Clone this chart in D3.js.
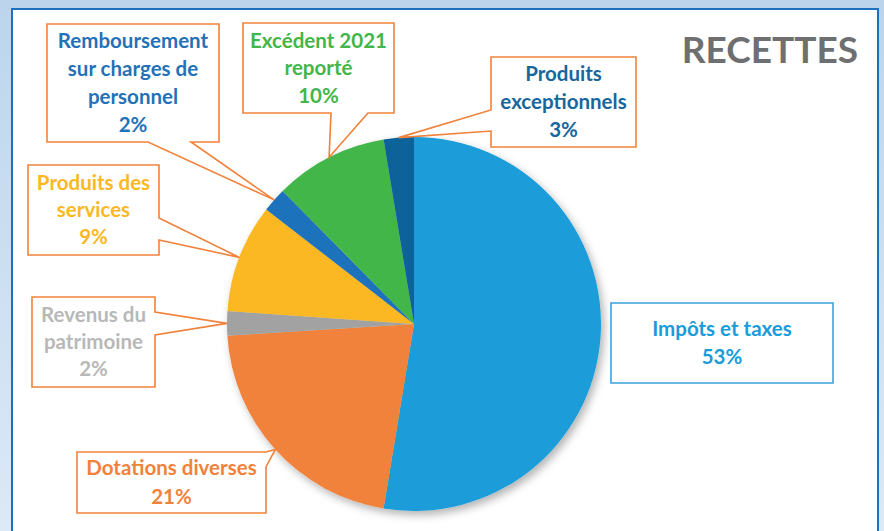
<!DOCTYPE html>
<html lang="fr">
<head>
<meta charset="utf-8">
<title>Recettes</title>
<script src="https://d3js.org/d3.v7.min.js"></script>
<style>
  body { margin: 0; overflow: hidden; }
  svg text { font-family: Lato, "Open Sans", sans-serif; font-weight: bold; }
</style>
</head>
<body>
<script>
// data (share of receipts, clockwise from 12 o'clock)
var categories = ["Impôts et taxes", "Dotations diverses", "Revenus du patrimoine",
                  "Produits des services", "Remboursement sur charges de personnel",
                  "Excédent 2021 reporté", "Produits exceptionnels"]
var values = [52.6, 21.4, 2.1, 9.4, 2.1, 9.8, 2.6]
var colors = ["#1a9cd8", "#f1823b", "#a2a2a2", "#fbb824", "#1f72bb", "#43b649", "#0b6499"]
var textColors = ["#1a9cd8", "#f1823b", "#b8b8b8", "#fbb824", "#2471b8", "#43b649", "#17679d"]
// label lines as they are wrapped in the boxes
var labelLines = [["Impôts et taxes"], ["Dotations diverses"], ["Revenus du", "patrimoine"],
                  ["Produits des", "services"], ["Remboursement", "sur charges de", "personnel"],
                  ["Excédent 2021", "reporté"], ["Produits", "exceptionnels"]]

var w = 884, h = 531
var cx = 414, cy = 324, r = 187

// callout boxes: box rect, which side the pointer leaves from and where
var boxes = [
  {x: 611, y: 303, w: 222, h: 80, side: null, lh: 28},
  {x: 77, y: 452, w: 189, h: 61, side: "right", base: [452, 467], lh: 29},
  {x: 32, y: 297, w: 123, h: 90, side: "right", base: [312, 335], lh: 27},
  {x: 28, y: 165, w: 131, h: 90, side: "right", base: [218, 240], lh: 27},
  {x: 47, y: 24, w: 172, h: 118, side: "bottom", base: [148, 191], lh: 28},
  {x: 243, y: 23, w: 151, h: 90, side: "bottom", base: [331, 368], lh: 27.5},
  {x: 491, y: 57, w: 145, h: 90, side: "left", base: [110, 131], lh: 28}
]

var svg = d3.select("body").append("svg")
  .attr("width", w)
  .attr("height", h)

var defs = svg.append("defs")
var grad = defs.append("linearGradient").attr("id", "bg")
  .attr("x1", 0).attr("y1", 0).attr("x2", 0).attr("y2", 1)
grad.append("stop").attr("offset", "0%").attr("stop-color", "#bcd5ec")
grad.append("stop").attr("offset", "100%").attr("stop-color", "#dce9f6")

var shadow = defs.append("filter").attr("id", "shadow")
  .attr("x", "-20%").attr("y", "-20%").attr("width", "140%").attr("height", "140%")
shadow.append("feDropShadow")
  .attr("dx", 3).attr("dy", 4).attr("stdDeviation", 4)
  .attr("flood-color", "#000").attr("flood-opacity", 0.3)

// background + panel
svg.append("rect").attr("width", w).attr("height", h).attr("fill", "url(#bg)")
svg.append("rect")
  .attr("x", 12).attr("y", 9).attr("width", 866).attr("height", 540)
  .attr("fill", "#fff").attr("stroke", "#1f6fbf").attr("stroke-width", 2)

svg.append("text")
  .attr("x", 858).attr("y", 63)
  .attr("text-anchor", "end")
  .attr("font-size", 37)
  .attr("fill", "#6d6f71")
  .text("RECETTES")

// pie
var pie = d3.pie().sort(null).value(function(d){ return d })
var arcs = pie(values)
var arc = d3.arc().innerRadius(0).outerRadius(r)
var tipArc = d3.arc().innerRadius(r * 2).outerRadius(0) // centroid sits at radius r

var g = svg.append("g").attr("transform", "translate(" + cx + "," + cy + ")")
g.append("g").attr("filter", "url(#shadow)")
  .selectAll("path")
  .data(arcs)
  .enter()
  .append("path")
  .attr("d", arc)
  .attr("fill", function(d, i){ return colors[i] })

// callouts
function calloutPath(b, tip){
  var x0 = b.x, y0 = b.y, x1 = b.x + b.w, y1 = b.y + b.h
  var p = []
  if(b.side === "bottom"){
    p = [[x0, y0], [x1, y0], [x1, y1], [b.base[1], y1], tip, [b.base[0], y1], [x0, y1]]
  } else if(b.side === "right"){
    p = [[x0, y0], [x1, y0], [x1, b.base[0]], tip, [x1, b.base[1]], [x1, y1], [x0, y1]]
  } else if(b.side === "left"){
    p = [[x0, y0], [x1, y0], [x1, y1], [x0, y1], [x0, b.base[1]], tip, [x0, b.base[0]]]
  } else {
    p = [[x0, y0], [x1, y0], [x1, y1], [x0, y1]]
  }
  return "M" + p.map(function(q){ return q[0] + "," + q[1] }).join("L") + "Z"
}

var labels = svg.append("g")
arcs.forEach(function(a, i){
  var b = boxes[i]
  var c = tipArc.centroid(a)
  var tip = [cx + c[0], cy + c[1]]
  labels.append("path")
    .attr("d", calloutPath(b, tip))
    .attr("fill", "#fff")
    .attr("stroke", b.side ? "#f1823b" : "#3aa3dc")
    .attr("stroke-width", 1.6)
    .attr("stroke-linejoin", "miter")

  var lines = labelLines[i].concat([Math.round(values[i]) + "%"])
  var top = b.y + b.h / 2 - (lines.length - 1) * b.lh / 2
  var t = labels.append("text")
    .attr("text-anchor", "middle")
    .attr("font-size", 20.5)
    .attr("fill", textColors[i])
  lines.forEach(function(s, j){
    t.append("tspan")
      .attr("x", b.x + b.w / 2)
      .attr("y", top + j * b.lh)
      .attr("dy", "0.35em")
      .text(s)
  })
})
</script>
</body>
</html>
